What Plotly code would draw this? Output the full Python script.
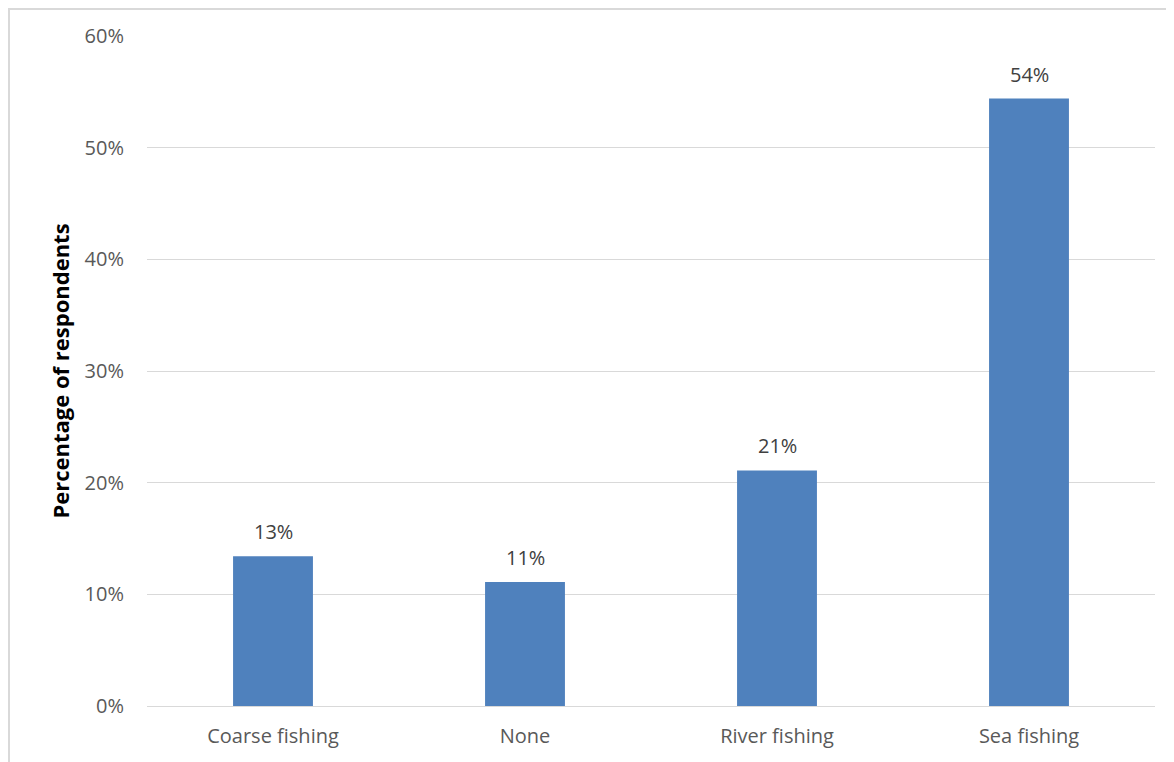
import plotly.graph_objects as go

categories = ["Coarse fishing", "None", "River fishing", "Sea fishing"]
values = [0.134, 0.111, 0.211, 0.544]
labels = ["13%", "11%", "21%", "54%"]

FONT = "Open Sans, Liberation Sans, Arial, sans-serif"

W, H = 1166, 754
L, R, T, B = 139, 19, 28, 56
pw, ph = W - L - R, H - T - B

fig = go.Figure()
fig.add_trace(go.Bar(
    x=categories, y=values,
    marker=dict(color="#4F81BD", line=dict(width=0)),
    width=0.317,
    hoverinfo="x+y",
))

for c, v, t in zip(categories, values, labels):
    fig.add_annotation(x=c, y=v, text=t, showarrow=False, yanchor="bottom",
                       yshift=9, font=dict(family=FONT, size=20, color="#404040"))

fig.add_shape(type="rect", xref="paper", yref="paper",
              x0=(1 - L) / pw, y0=-(B + 20) / ph, x1=(pw + R + 20) / pw, y1=1 + (T - 1) / ph,
              line=dict(color="#D9D9D9", width=2), fillcolor="rgba(0,0,0,0)",
              layer="below")

fig.update_layout(
    width=W, height=H,
    margin=dict(l=L, r=R, t=T, b=B),
    paper_bgcolor="white", plot_bgcolor="white",
    showlegend=False,
    font=dict(family=FONT, color="#595959"),
    xaxis=dict(
        showgrid=False, zeroline=False, showline=False,
        tickfont=dict(family=FONT, size=20, color="#595959"),
        ticks="", ticklabelstandoff=16,
    ),
    yaxis=dict(
        range=[0, 0.6], dtick=0.1, tickformat=".0%",
        showgrid=True, gridcolor="#D9D9D9", gridwidth=1,
        zeroline=True, zerolinecolor="#D9D9D9", zerolinewidth=1,
        showline=False, ticks="",
        tickfont=dict(family=FONT, size=20, color="#595959"),
        ticklabelstandoff=22,
        title=dict(text="<b>Percentage of respondents</b>",
                   font=dict(family=FONT, size=22, color="black"),
                   standoff=8),
    ),
)

fig.write_html("out.html")
